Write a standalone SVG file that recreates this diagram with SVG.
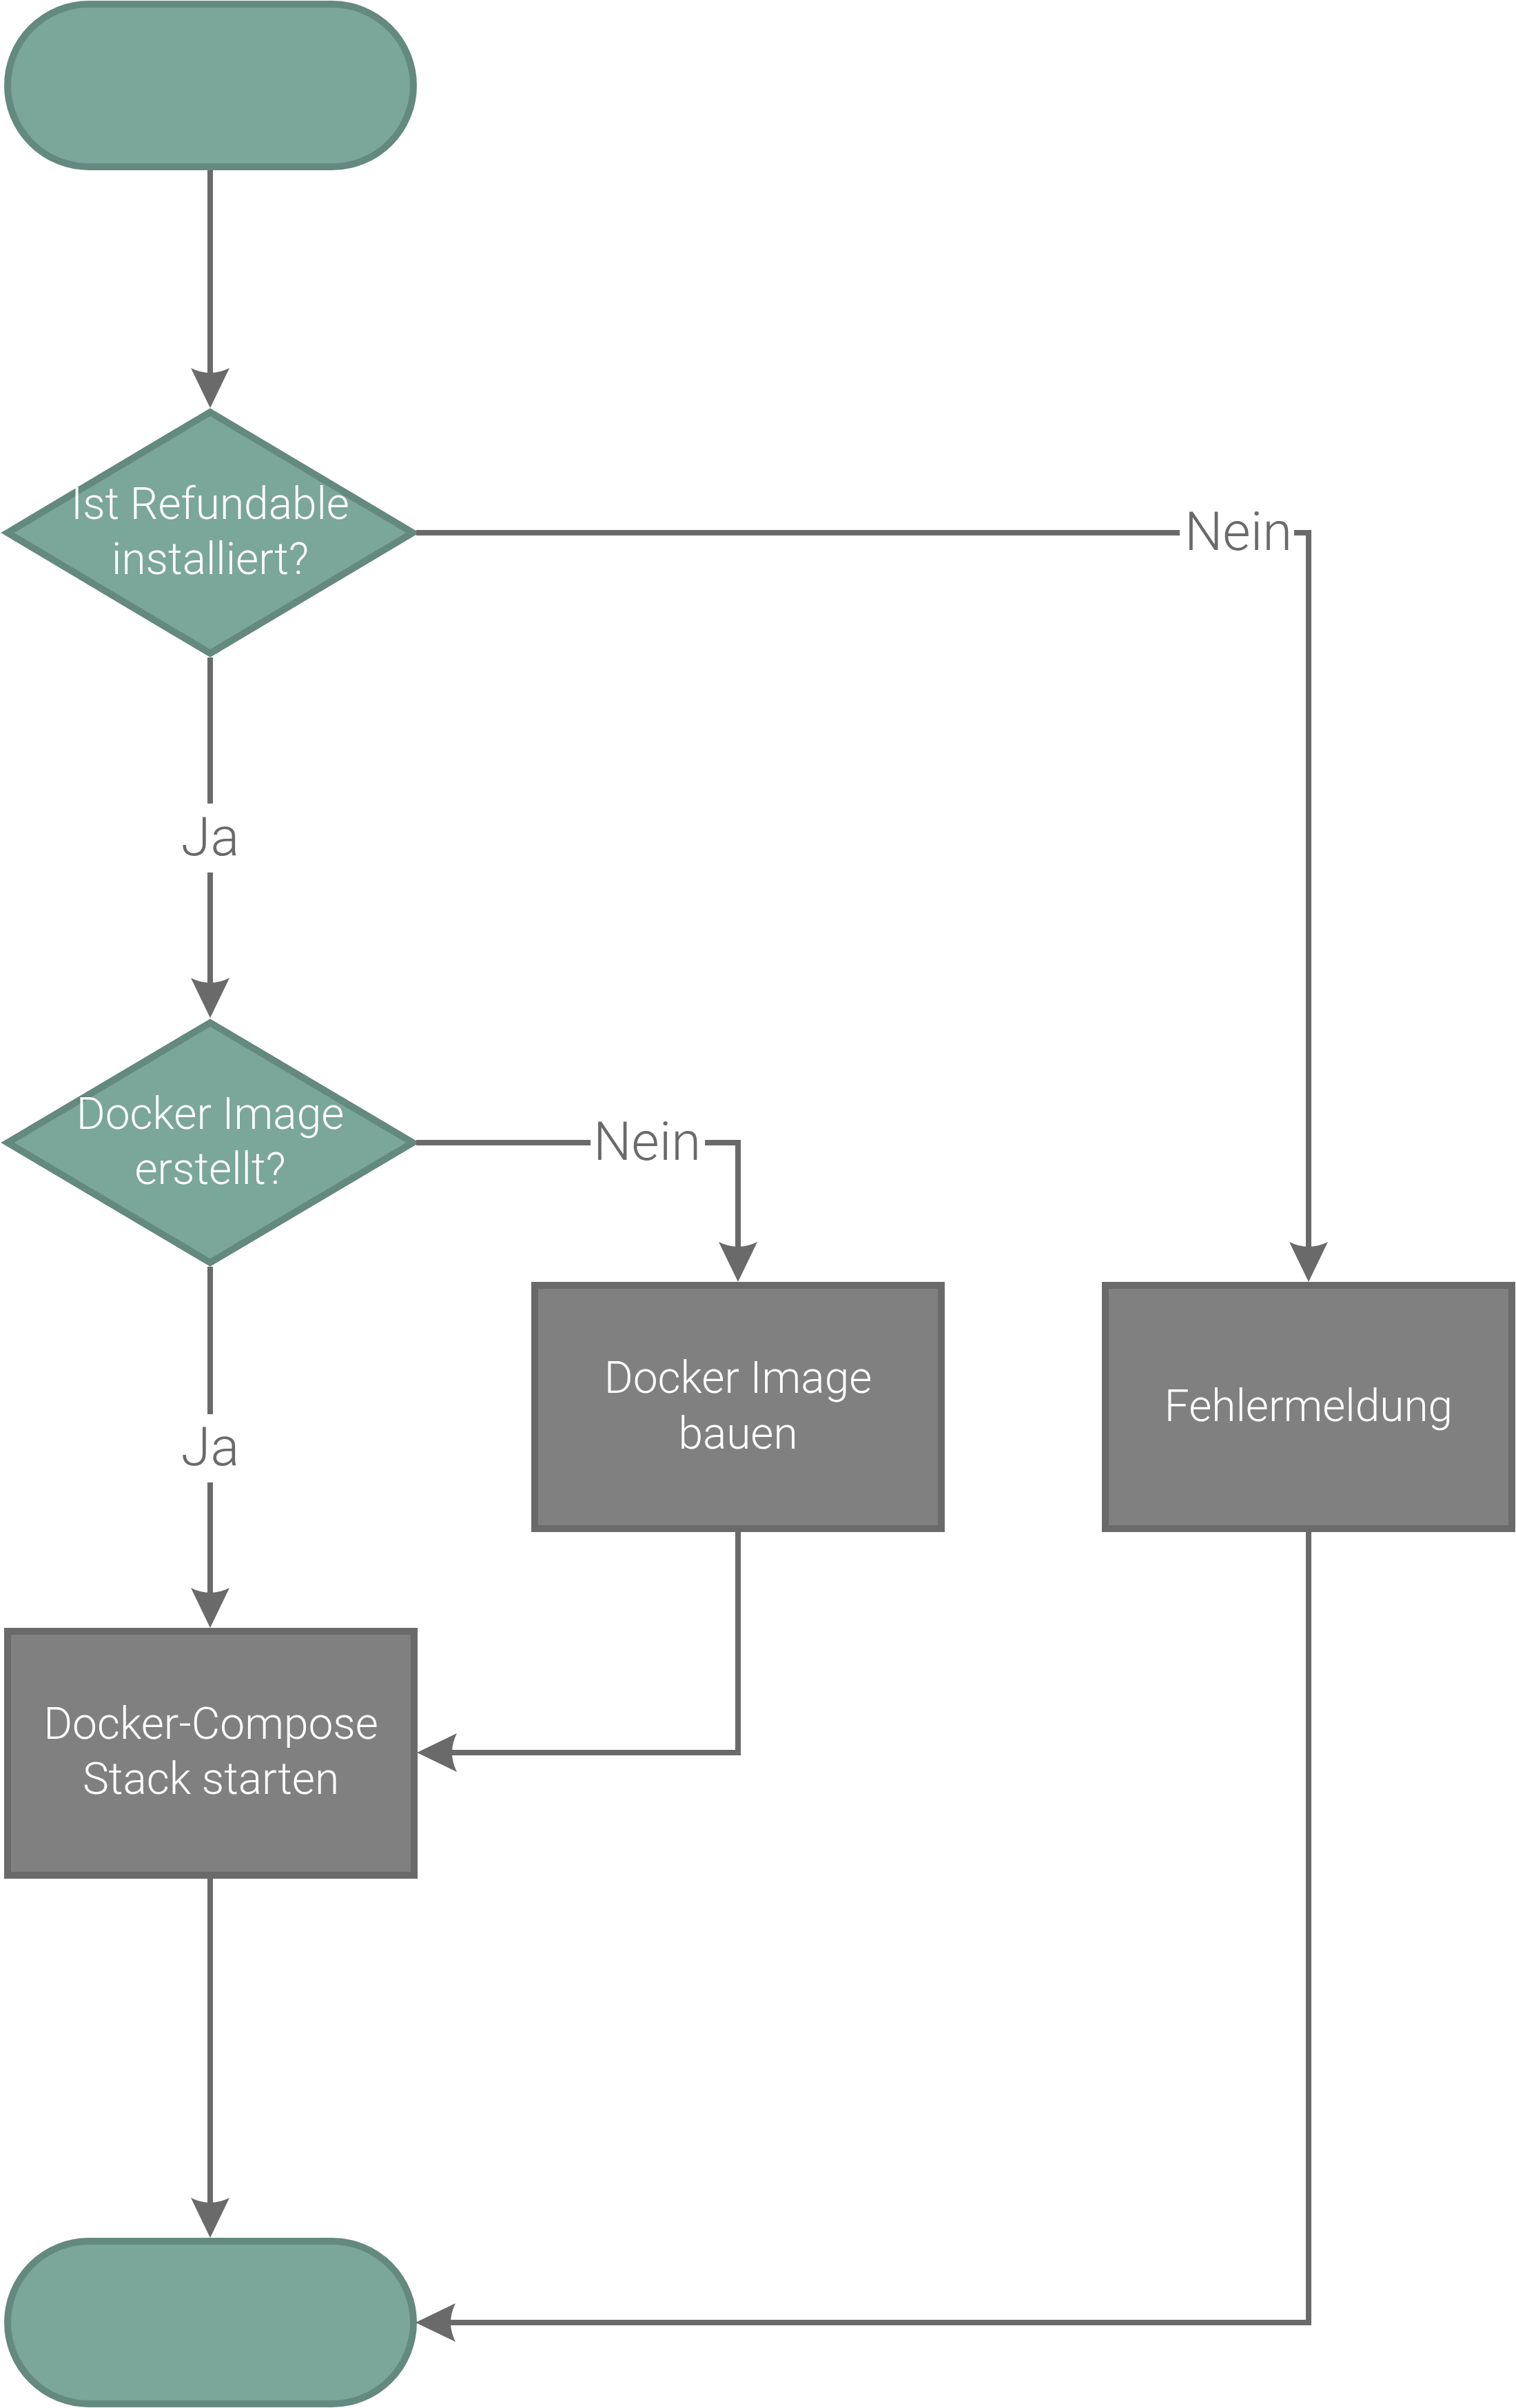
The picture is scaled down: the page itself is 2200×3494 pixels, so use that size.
<svg xmlns="http://www.w3.org/2000/svg" width="2200" height="3494" viewBox="0 0 2200 3494">
<style>
.teal{fill:#7ba69a;stroke:#64897f;stroke-width:10;stroke-linejoin:miter}
.box{fill:#808080;stroke:#6a6a6a;stroke-width:10}
.ntxt{font-family:Roboto,"Liberation Sans",sans-serif;font-weight:300;font-size:64px;fill:#ffffff;text-anchor:middle}
.ltxt{font-family:Roboto,"Liberation Sans",sans-serif;font-weight:300;font-size:78px;fill:#6a6a6a;text-anchor:middle}
.con{fill:none;stroke:#6a6a6a;stroke-width:8;marker-end:url(#arr)}
.lbg{fill:#ffffff}
</style>
<defs>
<marker id="arr" markerUnits="userSpaceOnUse" markerWidth="60" markerHeight="60" refX="7" refY="30" orient="auto" overflow="visible">
<path d="M0,2 L58,30 L0,58 Q14,30 0,2 Z" fill="#6a6a6a"/>
</marker>
</defs>
<rect width="2200" height="3494" fill="#ffffff"/>
<g id="start"><rect class="teal" x="11" y="6" width="589" height="236" rx="118" ry="118"/></g>
<g id="d1"><polygon class="teal" points="11,773 305,598 599,773 305,948"/>
<text class="ntxt" x="305" y="753">Ist Refundable</text><text class="ntxt" x="305" y="833">installiert?</text></g>
<g id="d2"><polygon class="teal" points="11,1658 305,1484 599,1658 305,1832"/>
<text class="ntxt" x="305" y="1638">Docker Image</text><text class="ntxt" x="305" y="1718">erstellt?</text></g>
<g id="build"><rect class="box" x="776" y="1865" width="590" height="353"/>
<text class="ntxt" x="1071" y="2021">Docker Image</text><text class="ntxt" x="1071" y="2102">bauen</text></g>
<g id="error"><rect class="box" x="1604" y="1865" width="590" height="353"/>
<text class="ntxt" x="1899" y="2062">Fehlermeldung</text></g>
<g id="compose"><rect class="box" x="11" y="2367" width="590" height="354"/>
<text class="ntxt" x="306" y="2523">Docker-Compose</text><text class="ntxt" x="306" y="2603">Stack starten</text></g>
<g id="end"><rect class="teal" x="11" y="3252" width="589" height="236" rx="118" ry="118"/></g>
<g id="connectors">
<path class="con" d="M604,773 H1899 V1809"/>
<path class="con" d="M305,247 V541"/>
<path class="con" d="M305,954 V1426"/>
<path class="con" d="M604,1658 H1071 V1809"/>
<path class="con" d="M305,1838 V2311"/>
<path class="con" d="M1071,2223 V2543 H656"/>
<path class="con" d="M305,2726 V3196"/>
<path class="con" d="M1899,2223 V3370 H654"/>
<rect class="lbg" x="1712" y="738" width="166" height="72"/>
<text class="ltxt" x="1797" y="798">Nein</text>
<rect class="lbg" x="857" y="1623" width="166" height="72"/>
<text class="ltxt" x="939" y="1683">Nein</text>
<rect class="lbg" x="260" y="1166" width="90" height="100"/>
<text class="ltxt" x="305" y="1241">Ja</text>
<rect class="lbg" x="260" y="2052" width="90" height="99"/>
<text class="ltxt" x="305" y="2126">Ja</text>
</g>
</svg>
